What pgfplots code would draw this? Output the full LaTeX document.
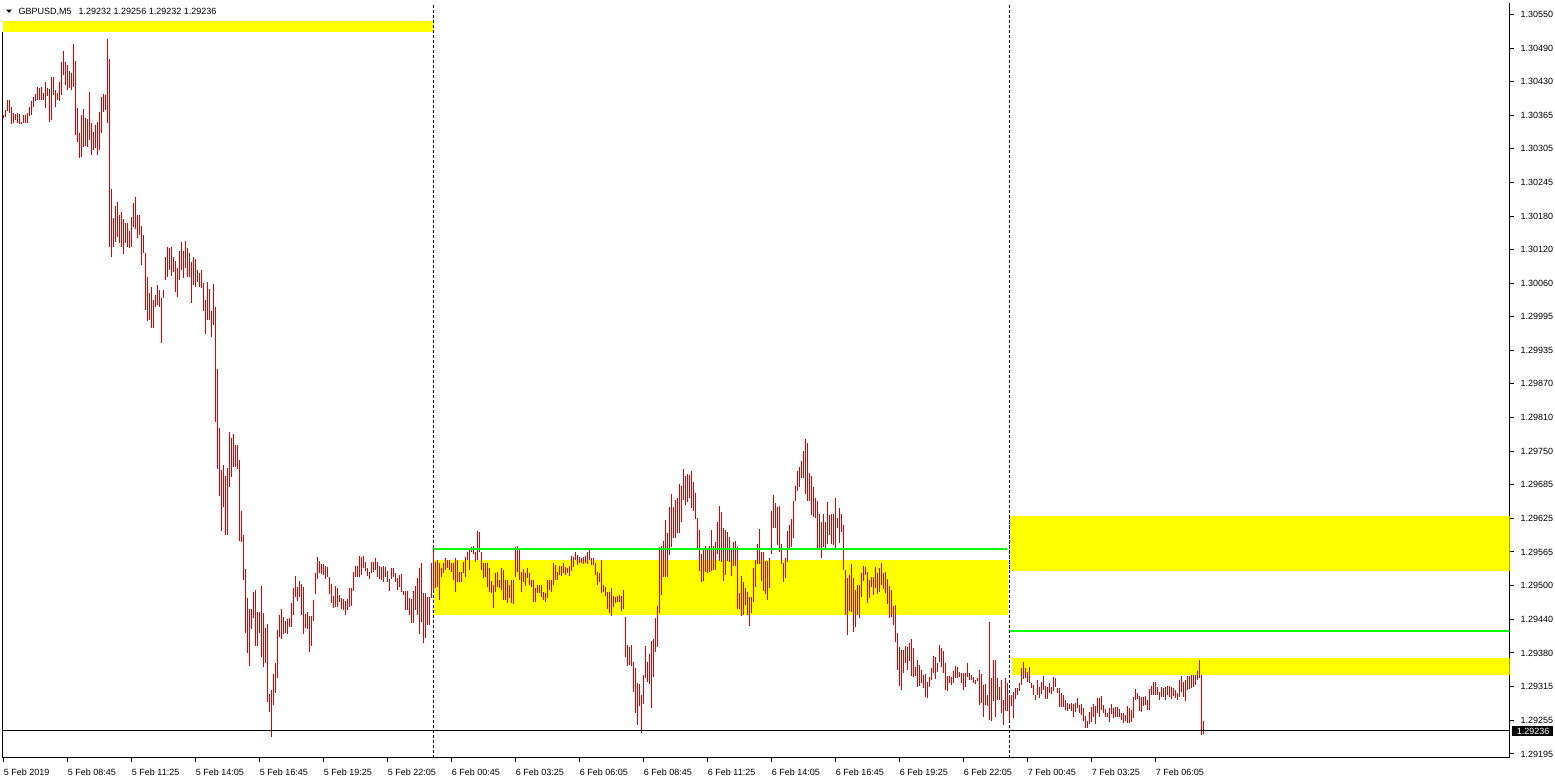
\documentclass[border=0pt]{standalone}
\usepackage{pgfplots}
\usepackage{pgfplotstable}
\pgfplotsset{compat=1.18}
\usepackage{fontspec}
\setmainfont{Liberation Sans}
\definecolor{barred}{RGB}{225,0,0}
\definecolor{zoneyellow}{RGB}{255,255,0}
\definecolor{levelgreen}{RGB}{0,255,0}
\definecolor{sepblue}{RGB}{0,0,255}
\newcommand{\lblfont}{\fontsize{4.5}{5}\selectfont}
\pgfplotstableread{
i h l
0 1.30365 1.30359
1 1.30374 1.30361
2 1.30393 1.30372
3 1.30393 1.30369
4 1.30380 1.30349
5 1.30369 1.30351
6 1.30367 1.30356
7 1.30369 1.30351
8 1.30367 1.30349
9 1.30352 1.30349
10 1.30365 1.30351
11 1.30365 1.30351
12 1.30369 1.30351
13 1.30380 1.30363
14 1.30391 1.30365
15 1.30398 1.30380
16 1.30404 1.30391
17 1.30416 1.30393
18 1.30414 1.30393
19 1.30416 1.30393
20 1.30406 1.30393
21 1.30425 1.30378
22 1.30414 1.30400
23 1.30413 1.30352
24 1.30435 1.30356
25 1.30435 1.30402
26 1.30411 1.30380
27 1.30406 1.30393
28 1.30425 1.30391
29 1.30462 1.30402
30 1.30482 1.30439
31 1.30462 1.30420
32 1.30457 1.30411
33 1.30446 1.30414
34 1.30443 1.30411
35 1.30496 1.30416
36 1.30464 1.30329
37 1.30378 1.30315
38 1.30333 1.30286
39 1.30365 1.30288
40 1.30377 1.30307
41 1.30359 1.30309
42 1.30358 1.30307
43 1.30407 1.30320
44 1.30351 1.30292
45 1.30334 1.30301
46 1.30347 1.30305
47 1.30352 1.30292
48 1.30370 1.30301
49 1.30398 1.30333
50 1.30404 1.30370
51 1.30402 1.30374
52 1.30505 1.30351
53 1.30468 1.30123
54 1.30230 1.30105
55 1.30176 1.30123
56 1.30199 1.30132
57 1.30206 1.30142
58 1.30182 1.30131
59 1.30187 1.30123
60 1.30175 1.30111
61 1.30168 1.30131
62 1.30168 1.30123
63 1.30153 1.30121
64 1.30178 1.30123
65 1.30205 1.30160
66 1.30215 1.30157
67 1.30182 1.30140
68 1.30182 1.30146
69 1.30162 1.30091
70 1.30146 1.30113
71 1.30113 1.30008
72 1.30068 1.29988
73 1.30040 1.29990
74 1.30050 1.29975
75 1.30026 1.29975
76 1.30036 1.30013
77 1.30054 1.30017
78 1.30045 1.30013
79 1.30030 1.29948
80 1.30045 1.30030
81 1.30105 1.30063
82 1.30123 1.30068
83 1.30121 1.30081
84 1.30123 1.30070
85 1.30105 1.30077
86 1.30098 1.30041
87 1.30085 1.30032
88 1.30116 1.30063
89 1.30132 1.30081
90 1.30116 1.30066
91 1.30134 1.30085
92 1.30121 1.30068
93 1.30113 1.30068
94 1.30096 1.30021
95 1.30105 1.30054
96 1.30102 1.30050
97 1.30081 1.30059
98 1.30076 1.30050
99 1.30081 1.30048
100 1.30058 1.30006
101 1.30026 1.29964
102 1.30059 1.29990
103 1.30047 1.29990
104 1.30006 1.29958
105 1.30056 1.29981
106 1.30013 1.29803
107 1.29900 1.29717
108 1.29792 1.29667
109 1.29715 1.29603
110 1.29724 1.29647
111 1.29704 1.29596
112 1.29718 1.29596
113 1.29784 1.29684
114 1.29773 1.29702
115 1.29781 1.29720
116 1.29761 1.29720
117 1.29761 1.29717
118 1.29733 1.29585
119 1.29640 1.29583
120 1.29596 1.29514
121 1.29534 1.29417
122 1.29480 1.29380
123 1.29461 1.29356
124 1.29461 1.29424
125 1.29491 1.29444
126 1.29495 1.29393
127 1.29455 1.29393
128 1.29455 1.29417
129 1.29503 1.29372
130 1.29454 1.29354
131 1.29425 1.29362
132 1.29433 1.29290
133 1.29305 1.29271
134 1.29312 1.29226
135 1.29342 1.29285
136 1.29362 1.29307
137 1.29422 1.29334
138 1.29450 1.29409
139 1.29461 1.29406
140 1.29446 1.29415
141 1.29438 1.29417
142 1.29443 1.29415
143 1.29444 1.29427
144 1.29472 1.29427
145 1.29499 1.29450
146 1.29521 1.29482
147 1.29501 1.29475
148 1.29512 1.29482
149 1.29507 1.29450
150 1.29501 1.29415
151 1.29452 1.29425
152 1.29455 1.29424
153 1.29448 1.29381
154 1.29448 1.29393
155 1.29477 1.29438
156 1.29527 1.29488
157 1.29556 1.29516
158 1.29548 1.29527
159 1.29543 1.29525
160 1.29543 1.29523
161 1.29539 1.29516
162 1.29537 1.29519
163 1.29519 1.29488
164 1.29507 1.29472
165 1.29484 1.29462
166 1.29503 1.29464
167 1.29499 1.29464
168 1.29486 1.29473
169 1.29480 1.29461
170 1.29479 1.29459
171 1.29475 1.29450
172 1.29479 1.29459
173 1.29499 1.29464
174 1.29499 1.29466
175 1.29528 1.29493
176 1.29539 1.29519
177 1.29539 1.29519
178 1.29558 1.29519
179 1.29556 1.29523
180 1.29558 1.29535
181 1.29546 1.29530
182 1.29535 1.29521
183 1.29528 1.29516
184 1.29546 1.29527
185 1.29546 1.29528
186 1.29554 1.29532
187 1.29546 1.29519
188 1.29539 1.29516
189 1.29537 1.29514
190 1.29539 1.29509
191 1.29537 1.29519
192 1.29530 1.29510
193 1.29516 1.29493
194 1.29535 1.29516
195 1.29535 1.29519
196 1.29527 1.29510
197 1.29517 1.29495
198 1.29523 1.29501
199 1.29525 1.29491
200 1.29493 1.29486
201 1.29493 1.29459
202 1.29493 1.29459
203 1.29480 1.29450
204 1.29479 1.29435
205 1.29493 1.29435
206 1.29503 1.29459
207 1.29517 1.29450
208 1.29535 1.29415
209 1.29545 1.29436
210 1.29490 1.29399
211 1.29490 1.29407
212 1.29482 1.29431
213 1.29482 1.29431
214 1.29545 1.29480
215 1.29564 1.29495
216 1.29546 1.29499
217 1.29550 1.29501
218 1.29545 1.29477
219 1.29535 1.29519
220 1.29545 1.29527
221 1.29554 1.29532
222 1.29550 1.29535
223 1.29550 1.29532
224 1.29545 1.29528
225 1.29545 1.29514
226 1.29553 1.29491
227 1.29550 1.29510
228 1.29528 1.29510
229 1.29528 1.29510
230 1.29546 1.29527
231 1.29556 1.29519
232 1.29564 1.29550
233 1.29572 1.29532
234 1.29574 1.29564
235 1.29576 1.29562
236 1.29564 1.29546
237 1.29603 1.29550
238 1.29601 1.29564
239 1.29564 1.29532
240 1.29545 1.29517
241 1.29545 1.29519
242 1.29545 1.29501
243 1.29535 1.29491
244 1.29512 1.29490
245 1.29505 1.29462
246 1.29527 1.29491
247 1.29528 1.29501
248 1.29514 1.29499
249 1.29535 1.29495
250 1.29532 1.29477
251 1.29514 1.29477
252 1.29514 1.29472
253 1.29505 1.29480
254 1.29514 1.29472
255 1.29514 1.29470
256 1.29574 1.29519
257 1.29576 1.29528
258 1.29569 1.29514
259 1.29528 1.29491
260 1.29534 1.29510
261 1.29527 1.29503
262 1.29535 1.29517
263 1.29527 1.29505
264 1.29514 1.29501
265 1.29514 1.29473
266 1.29499 1.29473
267 1.29505 1.29490
268 1.29505 1.29490
269 1.29505 1.29482
270 1.29491 1.29477
271 1.29490 1.29473
272 1.29514 1.29480
273 1.29514 1.29495
274 1.29514 1.29491
275 1.29545 1.29505
276 1.29541 1.29514
277 1.29528 1.29514
278 1.29539 1.29523
279 1.29539 1.29521
280 1.29545 1.29527
281 1.29537 1.29523
282 1.29535 1.29527
283 1.29539 1.29521
284 1.29558 1.29530
285 1.29556 1.29537
286 1.29564 1.29550
287 1.29560 1.29541
288 1.29556 1.29545
289 1.29554 1.29545
290 1.29556 1.29543
291 1.29558 1.29545
292 1.29565 1.29543
293 1.29569 1.29550
294 1.29554 1.29541
295 1.29554 1.29541
296 1.29545 1.29523
297 1.29528 1.29505
298 1.29527 1.29509
299 1.29550 1.29490
300 1.29505 1.29491
301 1.29501 1.29484
302 1.29491 1.29461
303 1.29491 1.29454
304 1.29499 1.29448
305 1.29484 1.29464
306 1.29482 1.29472
307 1.29484 1.29473
308 1.29486 1.29473
309 1.29484 1.29457
310 1.29495 1.29461
311 1.29446 1.29372
312 1.29395 1.29356
313 1.29391 1.29358
314 1.29395 1.29356
315 1.29363 1.29308
316 1.29352 1.29270
317 1.29325 1.29248
318 1.29323 1.29283
319 1.29303 1.29234
320 1.29340 1.29287
321 1.29393 1.29334
322 1.29363 1.29326
323 1.29378 1.29323
324 1.29402 1.29279
325 1.29406 1.29336
326 1.29444 1.29381
327 1.29466 1.29391
328 1.29574 1.29454
329 1.29576 1.29486
330 1.29585 1.29519
331 1.29623 1.29519
332 1.29600 1.29519
333 1.29647 1.29560
334 1.29671 1.29574
335 1.29647 1.29590
336 1.29660 1.29590
337 1.29663 1.29600
338 1.29690 1.29600
339 1.29686 1.29619
340 1.29717 1.29660
341 1.29704 1.29651
342 1.29708 1.29656
343 1.29706 1.29663
344 1.29713 1.29645
345 1.29693 1.29640
346 1.29673 1.29625
347 1.29627 1.29572
348 1.29605 1.29530
349 1.29562 1.29510
350 1.29572 1.29512
351 1.29576 1.29528
352 1.29571 1.29527
353 1.29576 1.29528
354 1.29605 1.29530
355 1.29576 1.29532
356 1.29583 1.29532
357 1.29619 1.29562
358 1.29649 1.29548
359 1.29638 1.29546
360 1.29608 1.29512
361 1.29605 1.29523
362 1.29601 1.29548
363 1.29592 1.29546
364 1.29571 1.29521
365 1.29583 1.29539
366 1.29585 1.29539
367 1.29574 1.29461
368 1.29490 1.29461
369 1.29521 1.29448
370 1.29509 1.29450
371 1.29499 1.29468
372 1.29491 1.29450
373 1.29482 1.29429
374 1.29482 1.29454
375 1.29535 1.29473
376 1.29550 1.29501
377 1.29580 1.29543
378 1.29607 1.29543
379 1.29565 1.29512
380 1.29564 1.29493
381 1.29548 1.29488
382 1.29548 1.29477
383 1.29554 1.29499
384 1.29640 1.29562
385 1.29669 1.29608
386 1.29655 1.29608
387 1.29647 1.29578
388 1.29649 1.29564
389 1.29580 1.29543
390 1.29545 1.29510
391 1.29554 1.29517
392 1.29603 1.29546
393 1.29614 1.29569
394 1.29625 1.29574
395 1.29658 1.29590
396 1.29686 1.29658
397 1.29713 1.29676
398 1.29720 1.29684
399 1.29731 1.29700
400 1.29750 1.29700
401 1.29772 1.29671
402 1.29765 1.29658
403 1.29710 1.29658
404 1.29704 1.29633
405 1.29684 1.29629
406 1.29663 1.29627
407 1.29658 1.29572
408 1.29634 1.29572
409 1.29619 1.29554
410 1.29634 1.29574
411 1.29619 1.29572
412 1.29656 1.29580
413 1.29633 1.29596
414 1.29634 1.29580
415 1.29634 1.29578
416 1.29664 1.29572
417 1.29627 1.29608
418 1.29645 1.29582
419 1.29634 1.29601
420 1.29614 1.29532
421 1.29532 1.29450
422 1.29517 1.29413
423 1.29523 1.29457
424 1.29543 1.29455
425 1.29517 1.29418
426 1.29495 1.29427
427 1.29505 1.29450
428 1.29505 1.29444
429 1.29527 1.29482
430 1.29539 1.29512
431 1.29537 1.29523
432 1.29528 1.29472
433 1.29514 1.29480
434 1.29519 1.29501
435 1.29519 1.29486
436 1.29537 1.29499
437 1.29527 1.29488
438 1.29535 1.29491
439 1.29545 1.29505
440 1.29527 1.29497
441 1.29528 1.29490
442 1.29516 1.29470
443 1.29503 1.29444
444 1.29495 1.29446
445 1.29466 1.29431
446 1.29468 1.29400
447 1.29417 1.29349
448 1.29391 1.29319
449 1.29385 1.29312
450 1.29385 1.29343
451 1.29393 1.29362
452 1.29391 1.29349
453 1.29398 1.29365
454 1.29406 1.29338
455 1.29389 1.29336
456 1.29354 1.29338
457 1.29367 1.29317
458 1.29358 1.29319
459 1.29349 1.29325
460 1.29340 1.29315
461 1.29341 1.29299
462 1.29326 1.29297
463 1.29336 1.29317
464 1.29352 1.29330
465 1.29374 1.29343
466 1.29372 1.29332
467 1.29362 1.29345
468 1.29395 1.29363
469 1.29389 1.29354
470 1.29383 1.29343
471 1.29362 1.29312
472 1.29338 1.29310
473 1.29338 1.29325
474 1.29336 1.29321
475 1.29347 1.29325
476 1.29356 1.29334
477 1.29354 1.29334
478 1.29345 1.29336
479 1.29343 1.29325
480 1.29343 1.29312
481 1.29343 1.29317
482 1.29362 1.29336
483 1.29343 1.29330
484 1.29340 1.29330
485 1.29336 1.29325
486 1.29330 1.29323
487 1.29334 1.29328
488 1.29349 1.29285
489 1.29341 1.29288
490 1.29321 1.29262
491 1.29323 1.29285
492 1.29303 1.29283
493 1.29436 1.29257
494 1.29334 1.29255
495 1.29367 1.29292
496 1.29367 1.29262
497 1.29334 1.29294
498 1.29317 1.29294
499 1.29330 1.29270
500 1.29294 1.29248
501 1.29334 1.29273
502 1.29325 1.29273
503 1.29303 1.29255
504 1.29303 1.29283
505 1.29308 1.29260
506 1.29315 1.29295
507 1.29315 1.29303
508 1.29325 1.29310
509 1.29352 1.29321
510 1.29363 1.29332
511 1.29352 1.29334
512 1.29345 1.29326
513 1.29354 1.29325
514 1.29325 1.29315
515 1.29321 1.29303
516 1.29303 1.29294
517 1.29330 1.29303
518 1.29317 1.29297
519 1.29326 1.29305
520 1.29338 1.29312
521 1.29319 1.29295
522 1.29317 1.29295
523 1.29325 1.29307
524 1.29317 1.29305
525 1.29336 1.29310
526 1.29334 1.29317
527 1.29315 1.29307
528 1.29315 1.29281
529 1.29307 1.29281
530 1.29303 1.29281
531 1.29294 1.29275
532 1.29288 1.29273
533 1.29287 1.29277
534 1.29288 1.29273
535 1.29287 1.29262
536 1.29288 1.29271
537 1.29297 1.29279
538 1.29285 1.29270
539 1.29287 1.29266
540 1.29279 1.29255
541 1.29264 1.29242
542 1.29255 1.29242
543 1.29271 1.29250
544 1.29281 1.29253
545 1.29287 1.29262
546 1.29283 1.29250
547 1.29297 1.29270
548 1.29297 1.29262
549 1.29301 1.29275
550 1.29285 1.29270
551 1.29277 1.29262
552 1.29270 1.29262
553 1.29279 1.29253
554 1.29287 1.29268
555 1.29279 1.29260
556 1.29281 1.29262
557 1.29281 1.29262
558 1.29277 1.29262
559 1.29270 1.29257
560 1.29270 1.29252
561 1.29266 1.29255
562 1.29283 1.29252
563 1.29279 1.29252
564 1.29275 1.29253
565 1.29299 1.29260
566 1.29314 1.29294
567 1.29307 1.29295
568 1.29301 1.29273
569 1.29299 1.29271
570 1.29299 1.29283
571 1.29301 1.29285
572 1.29294 1.29275
573 1.29314 1.29275
574 1.29319 1.29303
575 1.29326 1.29303
576 1.29326 1.29303
577 1.29317 1.29303
578 1.29308 1.29294
579 1.29317 1.29299
580 1.29315 1.29299
581 1.29317 1.29294
582 1.29319 1.29303
583 1.29319 1.29299
584 1.29317 1.29295
585 1.29315 1.29301
586 1.29312 1.29297
587 1.29307 1.29294
588 1.29330 1.29299
589 1.29338 1.29308
590 1.29326 1.29299
591 1.29330 1.29292
592 1.29338 1.29312
593 1.29338 1.29314
594 1.29340 1.29315
595 1.29340 1.29317
596 1.29340 1.29321
597 1.29347 1.29330
598 1.29367 1.29334
599 1.29340 1.29230
600 1.29256 1.29232
}\bars
\begin{document}
\begin{tikzpicture}
\path[use as bounding box] (0,0) rectangle (777.5pt,-389pt);
\begin{axis}[
  at={(1.25pt,-378.75pt)}, anchor=south west,
  scale only axis, width=753.5pt, height=377.5pt,
  xmin=-0.5, xmax=753, ymin=1.291884, ymax=1.305714,
  axis x line*=bottom, axis y line*=right,
  axis line style={black, line width=0.5pt},
  tick align=outside, major tick length=2pt,
  tick style={black, line width=0.5pt},
  xtick={0,32,...,576},
  xticklabels={5 Feb 2019,5 Feb 08:45,5 Feb 11:25,5 Feb 14:05,5 Feb 16:45,5 Feb 19:25,5 Feb 22:05,6 Feb 00:45,6 Feb 03:25,6 Feb 06:05,6 Feb 08:45,6 Feb 11:25,6 Feb 14:05,6 Feb 16:45,6 Feb 19:25,6 Feb 22:05,7 Feb 00:45,7 Feb 03:25,7 Feb 06:05},
  xticklabel style={anchor=north west, inner xsep=0pt, font=\lblfont},
  ytick={1.30550,1.30488,1.30427,1.30365,1.30304,1.30242,1.30180,1.30119,1.30057,1.29996,1.29934,1.29873,1.29811,1.29749,1.29688,1.29626,1.29565,1.29503,1.29441,1.29380,1.29318,1.29257,1.29195},
  yticklabels={1.30550,1.30490,1.30430,1.30365,1.30305,1.30245,1.30180,1.30120,1.30060,1.29995,1.29935,1.29870,1.29810,1.29750,1.29685,1.29625,1.29565,1.29500,1.29440,1.29380,1.29315,1.29255,1.29195},
  yticklabel style={anchor=west, font=\lblfont},
  /pgf/number format/assume math mode=true,
]
% zones
\fill[zoneyellow] (axis cs:0,1.30537) rectangle (axis cs:214.5,1.30517);
\fill[zoneyellow] (axis cs:214.8,1.29550) rectangle (axis cs:502,1.29450);
\fill[zoneyellow] (axis cs:503,1.29631) rectangle (axis cs:753,1.29530);
\fill[zoneyellow] (axis cs:504,1.29370) rectangle (axis cs:753,1.29340);
% period separators
\draw[black, line width=0.5pt, dash pattern=on 1.5pt off 1pt] (axis cs:215,1.291884) -- (axis cs:215,1.305714);
\draw[black, line width=0.5pt, dash pattern=on 1.5pt off 1pt] (axis cs:503,1.291884) -- (axis cs:503,1.305714);
\draw[sepblue, line width=0.5pt, dash pattern=on 1.5pt off 1pt] (axis cs:215,1.29550) -- (axis cs:215,1.29450);
\draw[sepblue, line width=0.5pt, dash pattern=on 1.5pt off 1pt] (axis cs:503,1.29631) -- (axis cs:503,1.29530);
% bars (high-low)
\addplot[draw=none, mark=none, forget plot,
  error bars/.cd, y dir=minus, y explicit, error mark=none,
  error bar style={draw=barred, solid, line width=0.5pt}]
  table[x=i, y=h, y error expr=\thisrow{h}-\thisrow{l}] {\bars};
% levels
\draw[levelgreen, line width=1pt] (axis cs:214.8,1.29571) -- (axis cs:501.5,1.29571);
\draw[levelgreen, line width=1pt] (axis cs:503,1.29420) -- (axis cs:753,1.29420);
% bid line
\draw[black, line width=0.5pt] (axis cs:-0.5,1.29237) -- (axis cs:753,1.29237);
\coordinate (bid) at (axis cs:753,1.29237);
\end{axis}
% left border
\draw[black, line width=0.5pt] (1.25pt,-378.75pt) -- (1.25pt,-16pt);
% bid price label
\fill[black] ([xshift=1pt,yshift=2.35pt]bid) rectangle ([xshift=21.5pt,yshift=-2.35pt]bid);
\node[text=white, anchor=west, inner sep=0pt, font=\lblfont] at ([xshift=3.5pt]bid) {1.29236};
% title
\fill[black] (3pt,-4.75pt) -- (6pt,-4.75pt) -- (4.5pt,-6.4pt) -- cycle;
\node[anchor=base west, inner sep=0pt, font=\lblfont] at (9.15pt,-7pt) {GBPUSD,M5\hspace{3.5pt}1.29232 1.29256 1.29232 1.29236};
\end{tikzpicture}
\end{document}
